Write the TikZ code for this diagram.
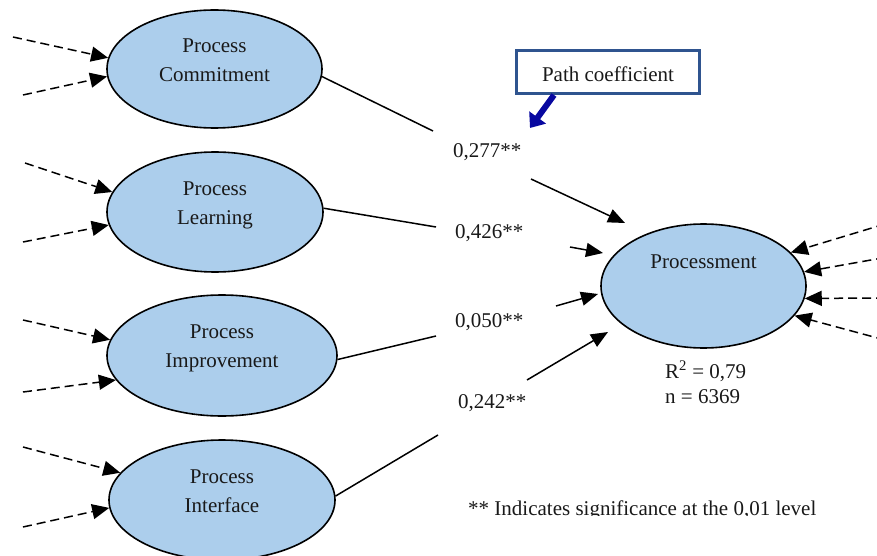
\documentclass[tikz,border=0pt]{standalone}
\usepackage{fontspec}
\setmainfont{Liberation Serif}
\usetikzlibrary{arrows.meta,shapes.geometric}

\definecolor{latentfill}{RGB}{172,206,236}
\definecolor{boxblue}{RGB}{47,84,143}
\definecolor{pointerblue}{RGB}{8,8,160}

\tikzset{
  txt/.style={font=\fontsize{21}{29}\selectfont, inner sep=0pt, text=black!90},
  latent/.style={ellipse, draw, line width=1.6pt, fill=latentfill, inner sep=0pt},
  etext/.style={txt, align=center},
  pathline/.style={line width=1.5pt},
  patharrow/.style={pathline, -{Triangle[length=17pt,width=14pt]}},
  indicator/.style={line width=1.5pt, dash pattern=on 9pt off 5pt,
                    -{Triangle[length=17pt,width=15pt]}},
}

\begin{document}
\begin{tikzpicture}[x=1pt,y=-1pt]
\useasboundingbox (0,0) rectangle (877,556);
\clip (0,0) rectangle (877,556);

% latent constructs
\node[latent, minimum width=215pt, minimum height=118pt,
      label={[etext,yshift=8pt]center:{\strut Process\\\strut Commitment}}]
      (pc) at (214.5,69) {};
\node[latent, minimum width=216pt, minimum height=120pt,
      label={[etext,yshift=8pt]center:{\strut Process\\\strut Learning}}]
      (pl) at (215,212) {};
\node[latent, minimum width=230pt, minimum height=121pt,
      label={[etext,yshift=8pt]center:{\strut Process\\\strut Improvement}}]
      (pi) at (222,355.5) {};
\node[latent, minimum width=226pt, minimum height=120pt,
      label={[etext,yshift=8pt]center:{\strut Process\\\strut Interface}}]
      (pf) at (222,500) {};
\node[latent, minimum width=205pt, minimum height=124pt,
      label={[etext,yshift=23.8pt]center:{\strut Processment}}]
      (pm) at (703.5,286) {};

% path coefficients
\node[txt, anchor=base west] (l1) at (453,158) {0,277**};
\node[txt, anchor=base west] (l2) at (455,238) {0,426**};
\node[txt, anchor=base west] (l3) at (455,327) {0,050**};
\node[txt, anchor=base west] (l4) at (458,408) {0,242**};

% structural paths, interrupted by the coefficient labels
\coordinate (k1a) at (433,131); \coordinate (k1b) at (531,179); \coordinate (k1c) at (625,223);
\coordinate (k2a) at (436,227); \coordinate (k2b) at (570,247); \coordinate (k2c) at (603,253);
\coordinate (k3a) at (436,336); \coordinate (k3b) at (556,306); \coordinate (k3c) at (598,294);
\coordinate (k4a) at (438,435); \coordinate (k4b) at (527,380); \coordinate (k4c) at (608,332);

\draw[pathline] (pc.-4) -- (k1a);
\draw[patharrow] (k1b) -- (k1c);
\draw[pathline] (pl.2) -- (k2a);
\draw[patharrow] (k2b) -- (k2c);
\draw[pathline] (pi.-2) -- (k3a);
\draw[patharrow] (k3b) -- (k3c);
\draw[pathline] (pf.2) -- (k4a);
\draw[patharrow] (k4b) -- (k4c);

% indicator arrows on the left
\coordinate (a1) at (13,37);  \coordinate (a2) at (23,95);
\coordinate (b1) at (25,163); \coordinate (b2) at (23,242);
\coordinate (c1) at (23,320); \coordinate (c2) at (23,392);
\coordinate (d1) at (23,447); \coordinate (d2) at (23,527);
\draw[indicator] (a1) -- (pc.174);
\draw[indicator] (a2) -- (pc.184);
\draw[indicator] (b1) -- (pl.169);
\draw[indicator] (b2) -- (pl.187);
\draw[indicator] (c1) -- (pi.172);
\draw[indicator] (c2) -- (pi.193);
\draw[indicator] (d1) -- (pf.165);
\draw[indicator] (d2) -- (pf.184);

% indicator arrows on the right
\coordinate (e1) at (885,224); \coordinate (e2) at (885,257.5);
\coordinate (e3) at (885,298); \coordinate (e4) at (885,340);
\draw[indicator] (e1) -- (pm.21);
\draw[indicator] (e2) -- (pm.8);
\draw[indicator] (e3) -- (pm.-7);
\draw[indicator] (e4) -- (pm.-18);

% fit statistics
\node[txt, anchor=base west] (r2) at (665,378) {R\textsuperscript{2} = 0,79};
\node[txt, anchor=base west] (nn) at (665,403) {n = 6369};

% callout
\node[txt, draw=boxblue, line width=3pt, minimum width=183pt, minimum height=43pt,
      text height=20pt, text depth=0pt] (pbox) at (608,72) {Path coefficient};
\coordinate (ptip) at (530,128);
\draw[pointerblue, line width=6pt, -{Triangle[length=13pt,width=20pt]}]
  ([xshift=39pt]pbox.south west) -- (ptip);

% footnote
\begin{scope}
  \clip (440,480) rectangle (877,515.5);
  \node[txt, anchor=base west] (note) at (468,515) {** Indicates significance at the 0,01 level};
\end{scope}
\end{tikzpicture}
\end{document}
